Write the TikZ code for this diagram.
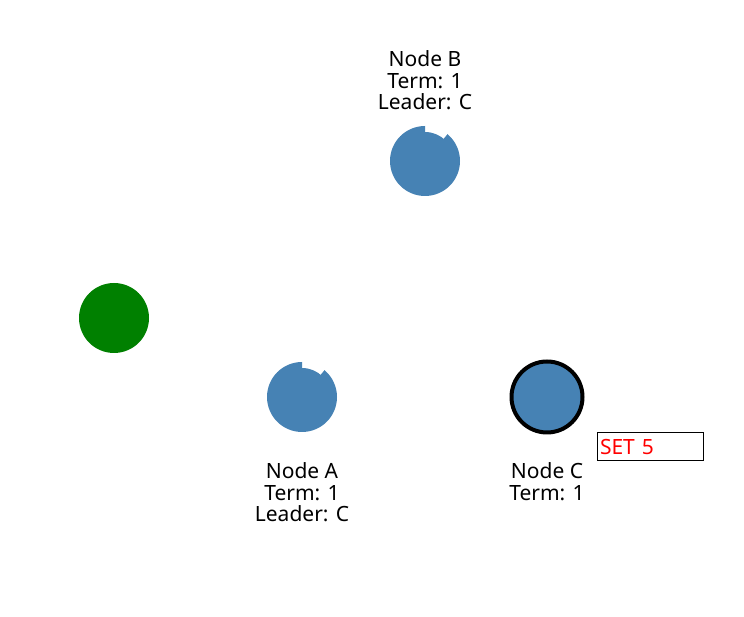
\documentclass[tikz,border=0pt]{standalone}
\usepackage{fontspec}
\setmainfont{Noto Sans}
\usetikzlibrary{positioning}
\definecolor{steel}{HTML}{4682B4}
\definecolor{leafgreen}{HTML}{008000}
\definecolor{alert}{HTML}{FF0000}

\begin{document}
\begin{tikzpicture}[x=1pt,y=1pt,font=\fontsize{21}{21.5}\selectfont,
  peer/.style={circle,fill=steel,inner sep=0pt,minimum size=58pt},
  client/.style={circle,fill=leafgreen,inner sep=0pt,minimum size=70pt},
  leaderpeer/.style={circle,fill=steel,draw=black,line width=4pt,inner sep=0pt,minimum size=71pt},
  peerlabel/.style={align=center,inner sep=0pt,anchor=north}]
  \fill[white] (0,0) rectangle (744,617);
  \useasboundingbox (0,0) rectangle (744,617);

  \node[client] (client) at (114,299) {};

  % followers, drawn with a bite out of the rim
  \node[peer] (B) at (425,456) {};
  \fill[steel] (B.center) -- ++(90:35) arc[start angle=90,end angle=410,radius=35] -- cycle;
  \node[peerlabel] (labelB) at (425,566.5) {Node B\\Term: 1\\Leader: C};

  \node[peer] (A) at (302,220) {};
  \fill[steel] (A.center) -- ++(90:35) arc[start angle=90,end angle=410,radius=35] -- cycle;
  \node[peerlabel] (labelA) at (302,154.5) {Node A\\Term: 1\\Leader: C};

  \node[leaderpeer] (C) at (547,220) {};
  \node[peerlabel] (labelC) at (547,154.5) {Node C\\Term: 1};

  \node[draw,line width=1pt,text=alert,text width=100pt,inner xsep=3pt,inner ysep=0pt,
    minimum height=28pt,align=left] (cmd) at (650,170) {SET 5};
\end{tikzpicture}
\end{document}
